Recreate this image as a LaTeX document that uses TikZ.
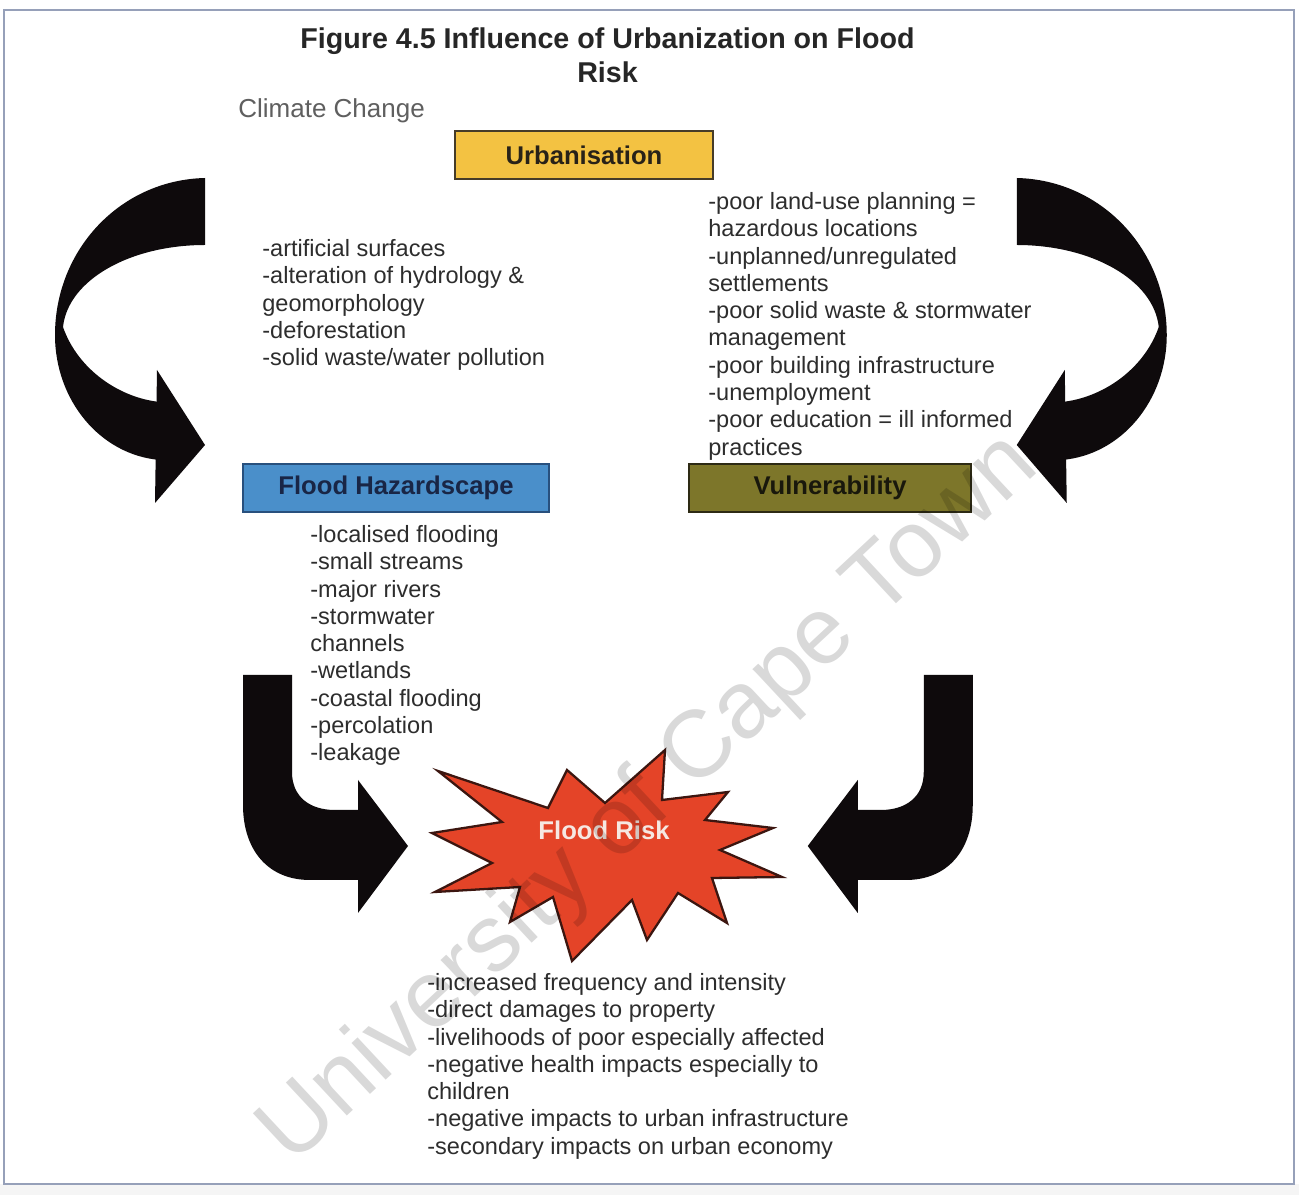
\documentclass[tikz,border=0pt]{standalone}
\usepackage{fontspec}
\setmainfont{Liberation Sans}

\definecolor{urbyellow}{RGB}{243,194,66}
\definecolor{urbedge}{RGB}{70,60,40}
\definecolor{urbtext}{RGB}{40,34,24}
\definecolor{hazblue}{RGB}{74,143,202}
\definecolor{hazedge}{RGB}{40,80,125}
\definecolor{haztext}{RGB}{25,38,70}
\definecolor{vulnolive}{RGB}{125,118,42}
\definecolor{vulnedge}{RGB}{45,42,20}
\definecolor{vulntext}{RGB}{25,24,12}
\definecolor{riskred}{RGB}{228,68,40}
\definecolor{riskedge}{RGB}{60,22,16}
\definecolor{risktext}{RGB}{246,232,226}
\definecolor{inkgray}{RGB}{45,45,45}
\definecolor{titleink}{RGB}{38,38,38}
\definecolor{softink}{RGB}{95,95,95}
\definecolor{framegray}{RGB}{150,160,185}
\definecolor{shapeblack}{RGB}{14,10,12}

\begin{document}
\begin{tikzpicture}[x=0.02cm,y=-0.02cm,
  stagebox/.style={draw, line width=1.1pt, inner sep=0pt,
    minimum height=0.96cm, font=\bfseries\fontsize{14.6}{17}\selectfont},
  listtext/.style={anchor=north west, align=left, inner sep=0pt,
    text=inkgray, font=\fontsize{13.4}{15.53}\selectfont},
  blockarrow/.style={fill=shapeblack}
]
\useasboundingbox (0,0) rectangle (1299,1195);
\fill[white] (0,0) rectangle (1299,1195);
\fill[gray!8] (0,1184) rectangle (1299,1195);
\draw[framegray, line width=1.2pt] (4,10) rectangle (1294,1184);

% heading
\node[anchor=north, align=center, inner sep=0pt, text=titleink,
      font=\bfseries\fontsize{16.3}{19.35}\selectfont] (title) at (607.5,24)
  {\strut Figure 4.5 Influence of Urbanization on Flood\\Risk};
\node[anchor=base west, inner sep=0pt, text=softink,
      font=\fontsize{14.8}{17}\selectfont] (climate) at (238,118) {Climate Change};

% stage boxes
\node[stagebox, fill=urbyellow, draw=urbedge, text=urbtext, minimum width=5.16cm]
  (urban) at (584,155) {Urbanisation};
\node[stagebox, fill=hazblue, draw=hazedge, text=haztext, minimum width=6.12cm]
  (hazard) at (396,488) {Flood Hazardscape};
\node[stagebox, fill=vulnolive, draw=vulnedge, text=vulntext, minimum width=5.64cm]
  (vuln) at (830,488) {Vulnerability};

% lists of factors
\node[listtext] (causes) at (262,237)
  {\strut-artificial surfaces\\-alteration of hydrology \&\\geomorphology\\-deforestation\\-solid waste/water pollution};
\node[listtext] (drivers) at (708,190)
  {\strut-poor land-use planning =\\hazardous locations\\-unplanned/unregulated\\settlements\\-poor solid waste \& stormwater\\management\\-poor building infrastructure\\-unemployment\\-poor education = ill informed\\practices};
\node[listtext] (hazards) at (310,523)
  {\strut-localised flooding\\-small streams\\-major rivers\\-stormwater\\channels\\-wetlands\\-coastal flooding\\-percolation\\-leakage};
\node[listtext] (impacts) at (427,971)
  {\strut-increased frequency and intensity\\-direct damages to property\\-livelihoods of poor especially affected\\-negative health impacts especially to\\children\\-negative impacts to urban infrastructure\\-secondary impacts on urban economy};

% curved block arrows at the top (left one, then its mirror image)
\begin{scope}
  \fill[blockarrow] (205,178) .. controls (120,180) and (55,250) .. (55,335)
    .. controls (55,400) and (100,455) .. (160,460) -- (160,402)
    .. controls (120,398) and (78,370) .. (63,327)
    .. controls (68,280) and (130,245) .. (205,245) -- cycle;
  \fill[blockarrow] (157,370) -- (205,445) -- (155,503) -- cycle;
\end{scope}
\begin{scope}[xshift=24.44cm, xscale=-1]
  \fill[blockarrow] (205,178) .. controls (120,180) and (55,250) .. (55,335)
    .. controls (55,400) and (100,455) .. (160,460) -- (160,402)
    .. controls (120,398) and (78,370) .. (63,327)
    .. controls (68,280) and (130,245) .. (205,245) -- cycle;
  \fill[blockarrow] (157,370) -- (205,445) -- (155,503) -- cycle;
\end{scope}

% bent block arrows at the bottom
\begin{scope}
  \fill[blockarrow] (243,675) -- (292,675) -- (292,772)
    .. controls (292,797) and (310,810) .. (335,810) -- (362,810) -- (362,880)
    -- (310,880) .. controls (268,880) and (243,850) .. (243,805) -- cycle;
  \fill[blockarrow] (358,780) -- (408,846) -- (358,913) -- cycle;
\end{scope}
\begin{scope}[xshift=24.32cm, xscale=-1]
  \fill[blockarrow] (243,675) -- (292,675) -- (292,772)
    .. controls (292,797) and (310,810) .. (335,810) -- (362,810) -- (362,880)
    -- (310,880) .. controls (268,880) and (243,850) .. (243,805) -- cycle;
  \fill[blockarrow] (358,780) -- (408,846) -- (358,913) -- cycle;
\end{scope}

% flood risk burst
\filldraw[fill=riskred, draw=riskedge, line width=1.3pt, line join=miter]
  (432,833) -- (502,822) -- (438,771) -- (548,808) -- (567,770) -- (605,803)
  -- (665,750) -- (662,800) -- (728,792) -- (705,820) -- (773,828) -- (720,850)
  -- (782,877) -- (712,878) -- (727,923) -- (678,893) -- (647,940) -- (632,900)
  -- (572,961) -- (553,897) -- (510,922) -- (520,887) -- (435,892) -- (492,863)
  -- cycle;
\node[text=risktext, font=\bfseries\fontsize{14.6}{17}\selectfont] (risk) at (604,830) {Flood Risk};

% watermark
\node[rotate=43, text=black, text opacity=0.15, inner sep=0pt,
      font=\fontsize{54}{60}\selectfont] (mark) at (650,800) {University of Cape Town};
\end{tikzpicture}
\end{document}
